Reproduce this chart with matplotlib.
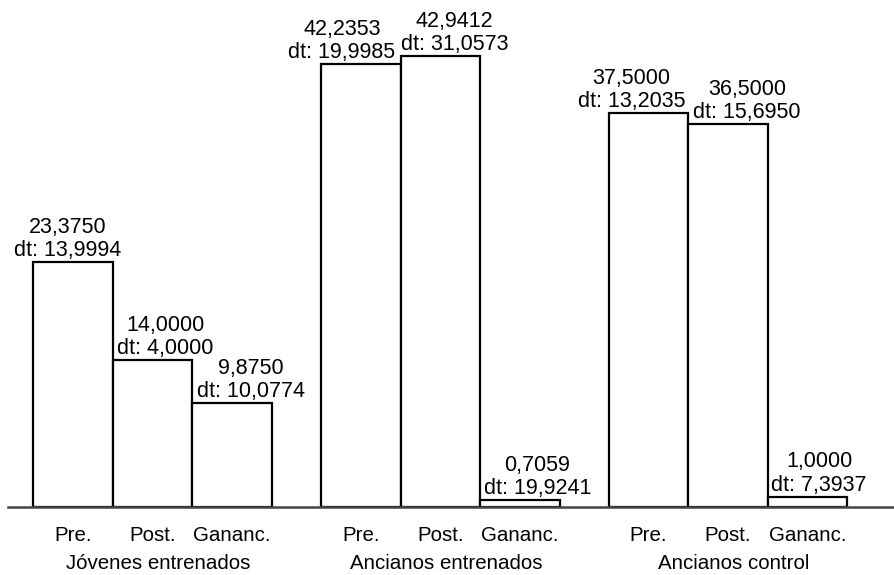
import matplotlib
matplotlib.use("Agg")
import matplotlib.pyplot as plt
import numpy as np

plt.rcParams['font.family'] = ['Liberation Sans', 'DejaVu Sans']

groups = ['Jóvenes entrenados', 'Ancianos entrenados', 'Ancianos control']
conditions = ['Pre.', 'Post.', 'Gananc.']
means = [
    [23.3750, 14.0000, 9.8750],
    [42.2353, 42.9412, 0.7059],
    [37.5000, 36.5000, 1.0000],
]
sds = [
    [13.9994, 4.0000, 10.0774],
    [19.9985, 31.0573, 19.9241],
    [13.2035, 15.6950, 7.3937],
]

# label horizontal nudges (pixels), purely layout
label_dx = [[-5, 13, 19], [-19, 14, 17.5], [-17, 19, 11.5]]

def fmt(v):
    return f"{v:.4f}".replace('.', ',')

W, H = 895, 575
fig = plt.figure(figsize=(W / 100, H / 100), dpi=100)
ax_left, ax_right = 8, 893
ax_bottom_px = 507
ax = fig.add_axes([ax_left / W, (H - ax_bottom_px) / H, (ax_right - ax_left) / W, ax_bottom_px / H])

px_per_unit = 79.5
step = 3.62
pre0 = 73
ax.set_xlim((ax_left - pre0) / px_per_unit, (ax_right - pre0) / px_per_unit)
ax.set_ylim(0, ax_bottom_px / 10.5)

fs_val = 15.5
fs_lab = 14.8
positions = []
tick_labels = []
for g, grp in enumerate(groups):
    xs = g * step + np.arange(len(conditions))
    ax.bar(xs, means[g], width=1.0, facecolor='white', edgecolor='black',
           linewidth=1.6, zorder=2)
    for i, x in enumerate(xs):
        m = means[g][i]
        s = sds[g][i]
        dx = label_dx[g][i]
        ax.annotate(f"dt: {fmt(s)}", xy=(x, m), xytext=(dx, 6),
                    textcoords='offset pixels', ha='center', va='baseline',
                    fontsize=fs_val)
        ax.annotate(fmt(m), xy=(x, m), xytext=(dx, 29),
                    textcoords='offset pixels', ha='center', va='baseline',
                    fontsize=fs_val)
        positions.append(x)
        tick_labels.append(conditions[i])
    ax.annotate(grp, xy=(xs[1], 0), xycoords=('data', 'axes fraction'),
                xytext=(6, -62), textcoords='offset pixels',
                ha='center', va='baseline', fontsize=fs_lab, annotation_clip=False)

ax.set_xticks(positions)
ax.set_xticklabels(tick_labels, fontsize=fs_lab)
ax.tick_params(axis='x', length=0, pad=13.5)
ax.set_yticks([])
for side in ['top', 'right', 'left']:
    ax.spines[side].set_visible(False)
ax.spines['bottom'].set_color('#444444')
ax.spines['bottom'].set_linewidth(1.8)
ax.spines['bottom'].set_zorder(3)
ax.patch.set_visible(False)

fig.savefig('out.png', dpi=100, facecolor='white')
